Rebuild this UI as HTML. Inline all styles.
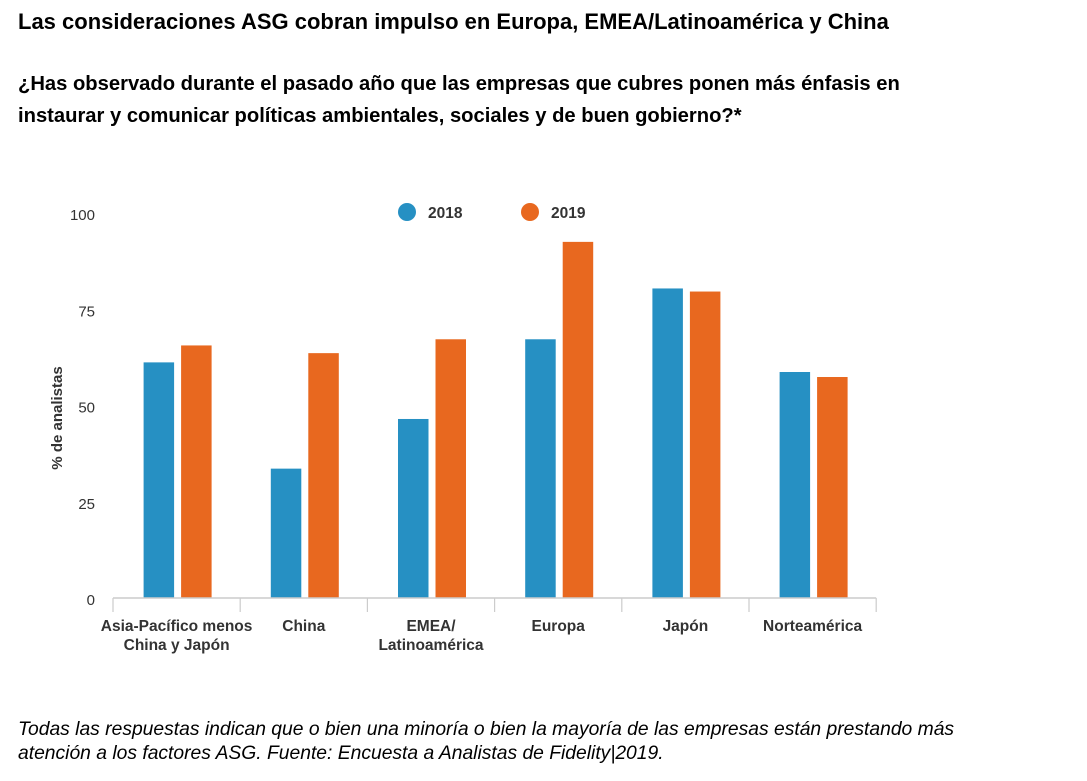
<!DOCTYPE html>
<html><head><meta charset="utf-8"><style>
body{margin:0;background:#fff;width:1087px;height:781px;overflow:hidden;font-family:"Liberation Sans",sans-serif;}
.t{position:absolute;left:18px;color:#000;font-weight:bold;white-space:nowrap;}
</style></head><body>
<div class="t" style="top:9px;font-size:22px;">Las consideraciones ASG cobran impulso en Europa, EMEA/Latinoamérica y China</div>
<div class="t" style="top:68px;font-size:20.2px;line-height:32px;">¿Has observado durante el pasado año que las empresas que cubres ponen más énfasis en<br>instaurar y comunicar políticas ambientales, sociales y de buen gobierno?*</div>
<div style="position:absolute;left:18px;top:718px;font-size:19.3px;font-style:italic;line-height:24px;white-space:nowrap;">Todas las respuestas indican que o bien una minoría o bien la mayoría de las empresas están prestando más<br>atención a los factores ASG. Fuente: Encuesta a Analistas de Fidelity|2019.</div>
<svg id="c" width="1087" height="781" style="position:absolute;left:0;top:0"></svg>
<script>
const categories=[["Asia-Pacífico menos","China y Japón"],["China"],["EMEA/","Latinoamérica"],["Europa"],["Japón"],["Norteamérica"]];
const values2018=[61.2,33.6,46.5,67.2,80.4,58.7];
const values2019=[65.6,63.6,67.2,92.5,79.6,57.4];
const yTicks=[0,25,50,75,100];
const seriesNames=["2018","2019"];
const colors=["#2690c3","#e8681f"];
const svg=document.getElementById('c');const NS="http://www.w3.org/2000/svg";
function mk(t,a,p){const e=document.createElementNS(NS,t);for(const k in a)e.setAttribute(k,a[k]);(p||svg).appendChild(e);return e;}
const x0=113,step=127.2,y0=598,k=3.85;
const y=v=>y0-v*k;
const xc=i=>x0+step*(i+0.5);
yTicks.forEach(t=>{const e=mk('text',{x:95,y:y(t)+7,'text-anchor':'end','font-size':15,fill:'#333'});e.textContent=t;

});
const yt=mk('text',{transform:'translate(62,418) rotate(-90)','text-anchor':'middle','font-size':15,'font-weight':'bold',fill:'#333'});yt.textContent='% de analistas';


[values2018,values2019].forEach((vals,s)=>{vals.forEach((v,i)=>{
const bx=s===0?xc(i)-33:xc(i)+4.5;
const r=mk('rect',{x:bx,y:y(v),width:30.5,height:v*k,fill:colors[s]});

});});
const ax=mk('line',{x1:x0,x2:x0+step*6,y1:y0,y2:y0,stroke:'#ccc','stroke-width':1.5});


for(let i=0;i<=6;i++){const tk=mk('line',{x1:x0+step*i,x2:x0+step*i,y1:y0,y2:y0+14,stroke:'#ccc','stroke-width':1.2});

}
categories.forEach((c,i)=>{c.forEach((ln,j)=>{const e=mk('text',{x:xc(i),y:631+j*19,'text-anchor':'middle','font-size':15.5,'font-weight':'bold',fill:'#333'});e.textContent=ln;

});});
seriesNames.forEach((n,s)=>{const lx=407+s*123;
const c=mk('circle',{cx:lx,cy:212,r:9,fill:colors[s]});


const t=mk('text',{x:lx+21,y:218,'font-size':15.5,'font-weight':'bold',fill:'#333'});t.textContent=n;

});
</script>
</body></html>
